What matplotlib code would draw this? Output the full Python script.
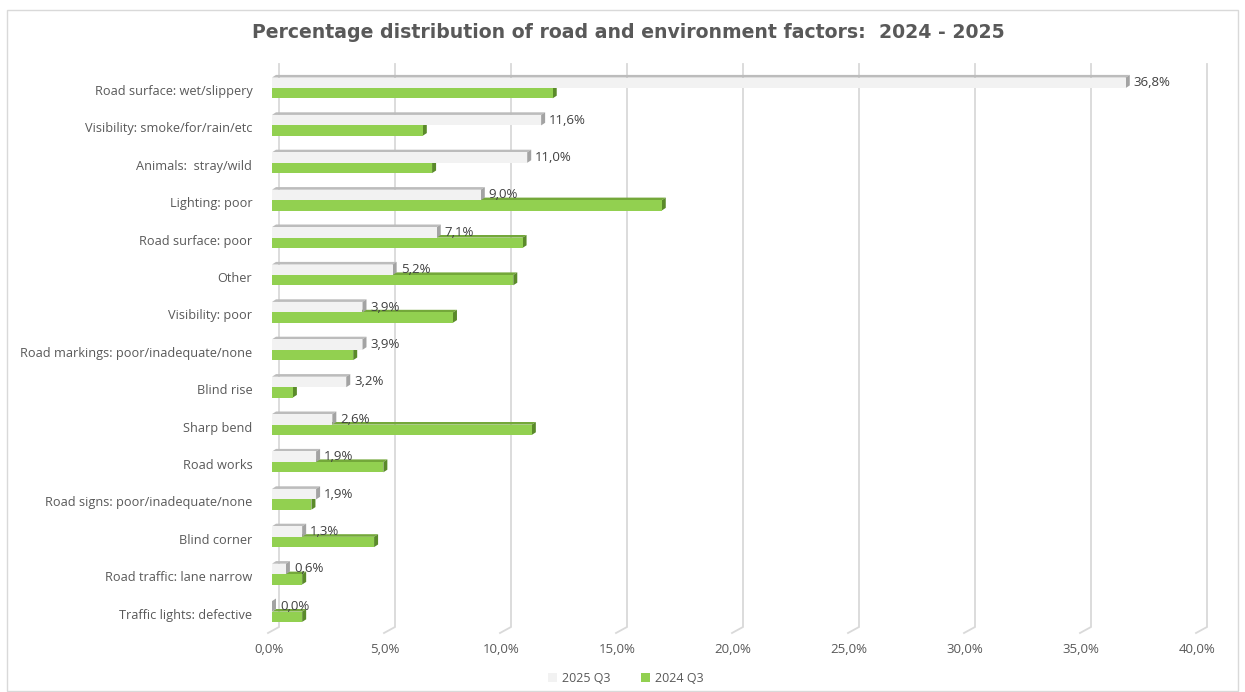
import matplotlib
matplotlib.use("Agg")
import matplotlib.pyplot as plt
from matplotlib.patches import Polygon, Rectangle, Patch
from matplotlib.transforms import ScaledTranslation

# ---- data ----
categories = [
    "Road surface: wet/slippery",
    "Visibility: smoke/for/rain/etc",
    "Animals:  stray/wild",
    "Lighting: poor",
    "Road surface: poor",
    "Other",
    "Visibility: poor",
    "Road markings: poor/inadequate/none",
    "Blind rise",
    "Sharp bend",
    "Road works",
    "Road signs: poor/inadequate/none",
    "Blind corner",
    "Road traffic: lane narrow",
    "Traffic lights: defective",
]
values_2025 = [36.8, 11.6, 11.0, 9.0, 7.1, 5.2, 3.9, 3.9, 3.2, 2.6, 1.9, 1.9, 1.3, 0.6, 0.0]
values_2024 = [12.1, 6.5, 6.9, 16.8, 10.8, 10.4, 7.8, 3.5, 0.9, 11.2, 4.8, 1.7, 4.4, 1.3, 1.3]
series_names = ["2025 Q3", "2024 Q3"]
x_ticks = [0, 5, 10, 15, 20, 25, 30, 35, 40]
x_tick_labels = ["0,0%", "5,0%", "10,0%", "15,0%", "20,0%", "25,0%", "30,0%", "35,0%", "40,0%"]
title = "Percentage distribution of road and environment factors:  2024 - 2025"

# ---- style ----
W, H = 1245, 692
DPI = 100
FONT = "Open Sans"
TEXT_GREY = "#595959"
GRID = "#d9d9d9"

gray_face, gray_top, gray_side = "#f2f2f2", "#bcbcbc", "#a3a3a3"
green_face, green_top, green_side = "#92d050", "#74a83a", "#5a8a2a"

fig = plt.figure(figsize=(W / DPI, H / DPI), dpi=DPI)
fig.patch.set_facecolor("white")

# axes placed in figure pixels
ax_left, ax_right, ax_top, ax_bottom = 262, 1220, 60, 640
ax = fig.add_axes([ax_left / W, 1 - ax_bottom / H, (ax_right - ax_left) / W, (ax_bottom - ax_top) / H])

px_per_pct = 23.2
row_px = 37.4
row0_px = 88
xmin = -(272 - ax_left) / px_per_pct
xmax = (ax_right - 272) / px_per_pct
ax.set_xlim(xmin, xmax)
ymin = (ax_top - row0_px) / row_px
ymax = (ax_bottom - row0_px) / row_px
ax.set_ylim(ymax, ymin)

for s in ax.spines.values():
    s.set_visible(False)
ax.set_facecolor("none")

# 3D depth offsets in data units
dx = 4.0 / px_per_pct
dy = 2.6 / row_px


def bar3d(y_top, y_bot, length, face, top, side, z):
    ax.add_patch(Polygon([(0, y_top), (length, y_top), (length + dx, y_top - dy), (dx, y_top - dy)],
                         closed=True, facecolor=top, edgecolor="none", zorder=z))
    ax.add_patch(Polygon([(length, y_top), (length, y_bot), (length + dx, y_bot - dy), (length + dx, y_top - dy)],
                         closed=True, facecolor=side, edgecolor="none", zorder=z))
    ax.add_patch(Rectangle((0, y_top), length, y_bot - y_top, facecolor=face, edgecolor="none", zorder=z + 0.1))


# back-wall gridlines with slanted floor segment
grid_top = (64 - row0_px) / row_px
grid_floor_back = (627 - row0_px) / row_px
grid_floor_front = (633 - row0_px) / row_px
back_off = 7 / px_per_pct
front_off = -4 / px_per_pct
for t in x_ticks:
    ax.plot([t + back_off, t + back_off, t + front_off],
            [grid_top, grid_floor_back, grid_floor_front],
            color=GRID, lw=1.3, zorder=1, solid_joinstyle="miter")

gray_h = 10.5 / row_px
green_h = 10.3 / row_px
for i, (v25, v24) in enumerate(zip(values_2025, values_2024)):
    # green drawn first so the grey bar in front hides its top face
    bar3d(i, i + green_h, v24, green_face, green_top, green_side, 3)
    bar3d(i - gray_h, i, v25, gray_face, gray_top, gray_side, 5)
    ax.annotate(f"{v25:.1f}".replace(".", ",") + "%", xy=(v25, i - gray_h / 2),
                xytext=(8, 0), textcoords="offset pixels", ha="left", va="center",
                fontsize=9.5, color="#404040", family=FONT, zorder=10)

# category labels
ax.set_yticks([i + 2 / row_px for i in range(len(categories))])
ax.set_yticklabels(categories, fontsize=9.2, color=TEXT_GREY, family=FONT)
ax.tick_params(axis="y", length=0, pad=7)

# value axis labels sit at the front edge of the floor
ax.set_xticks(x_ticks)
ax.set_xticklabels(x_tick_labels, fontsize=9.5, color=TEXT_GREY, family=FONT)
ax.tick_params(axis="x", length=0, pad=2)
shift = ScaledTranslation(-3 / DPI, 0, fig.dpi_scale_trans)
for lbl in ax.get_xticklabels():
    lbl.set_transform(lbl.get_transform() + shift)

# title
fig.text(628 / W, 1 - 33 / H, title, ha="center", va="center", fontsize=13.6, fontweight="bold",
         color=TEXT_GREY, family="DejaVu Sans")

# legend
handles = [Patch(facecolor=gray_face, edgecolor="none"), Patch(facecolor=green_face, edgecolor="none")]
fig.legend(handles, series_names, loc="center", bbox_to_anchor=(626 / W, 1 - 678 / H), ncol=2,
           frameon=False, prop={"family": FONT, "size": 9}, labelcolor=TEXT_GREY,
           handlelength=0.75, handleheight=0.75, handletextpad=0.4, columnspacing=2.4)

# chart border
fig.patches.append(Rectangle((7 / W, 1 / H), 1231 / W, 1 - 11 / H, transform=fig.transFigure,
                             facecolor="none", edgecolor=GRID, lw=1.0))

fig.savefig("out.png", dpi=DPI)
